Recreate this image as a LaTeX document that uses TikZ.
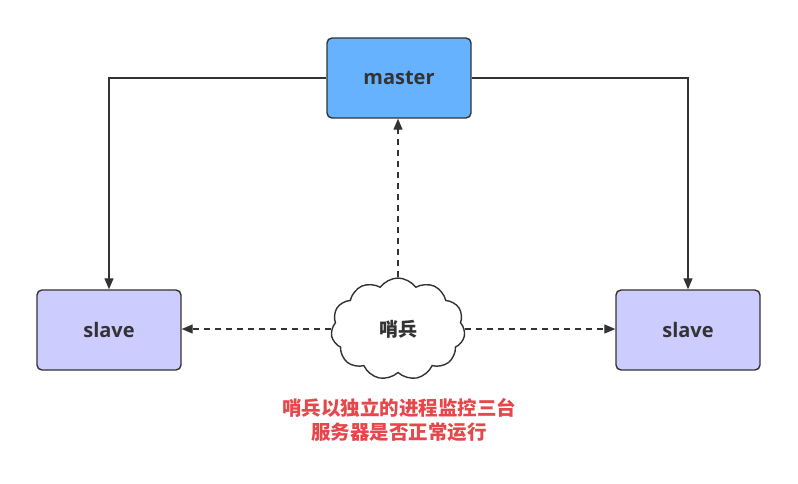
\documentclass[tikz,border=0pt]{standalone}
\usepackage{fontspec}
\setmainfont{Open Sans}
\newfontfamily\cjk{Noto Sans CJK SC}
\usetikzlibrary{shapes.symbols,arrows.meta}
\definecolor{masterfill}{HTML}{66B2FF}
\definecolor{slavefill}{HTML}{CCCCFF}
\definecolor{edge}{HTML}{333333}
\definecolor{note}{HTML}{E5474B}
\begin{document}
\begin{tikzpicture}[x=1pt,y=-1pt,
  box/.style={draw=edge,line width=1.4pt,rounded corners=5pt,minimum width=144pt,minimum height=80pt,inner sep=0pt,font=\fontsize{20}{24}\selectfont\bfseries,text=edge},
  conn/.style={draw=edge,line width=1.3pt,-{Triangle[length=11pt,width=9pt]}},
  dconn/.style={conn,dash pattern=on 6pt off 5pt}]
\useasboundingbox (0,0) rectangle (798,483);
\node[box,fill=masterfill] (master) at (399,78) {master};
\node[box,fill=slavefill] (sl) at (109,330) {slave};
\node[box,fill=slavefill] (sr) at (688,330) {slave};
\node[cloud,cloud puffs=11,cloud puff arc=110,aspect=1.35,draw=edge,line width=1.4pt,fill=white,minimum width=134pt,minimum height=102pt,inner sep=0pt,font=\cjk\fontsize{19}{22}\selectfont\bfseries,text=edge] (c) at (398,329) {哨兵};
\draw[conn] (master.west) -| (sl.north);
\draw[conn] (master.east) -| (sr.north);
\draw[dconn] (c.north) -- (c.north |- master.south);
\draw[dconn] (c.west) -- (sl.east |- c.west);
\draw[dconn] (c.east) -- (sr.west |- c.east);
\node[font=\cjk\fontsize{19.5}{24}\selectfont\bfseries,text=note,align=center] (t) at (399,420) {哨兵以独立的进程监控三台\\服务器是否正常运行};
\end{tikzpicture}
\end{document}
